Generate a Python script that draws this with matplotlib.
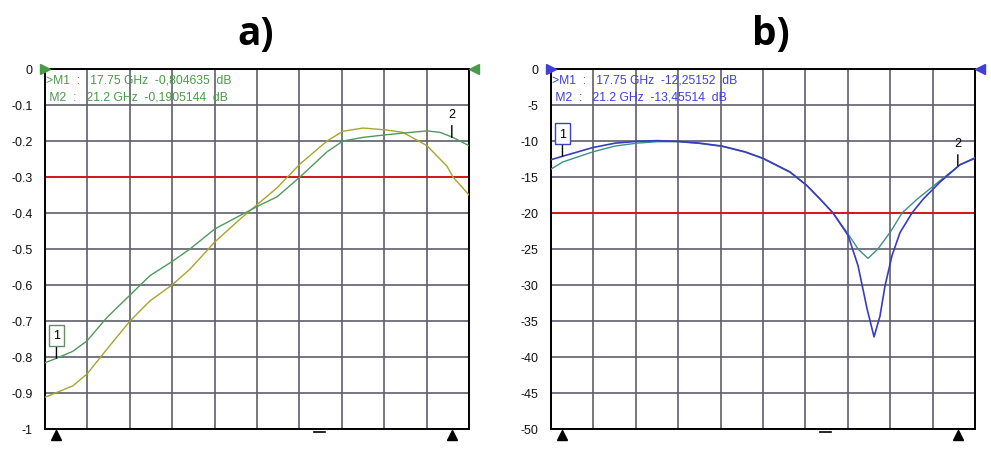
import matplotlib
matplotlib.use("Agg")
import matplotlib.pyplot as plt
from matplotlib.transforms import blended_transform_factory

# ---------------- data ----------------
f_start, f_stop = 17.65, 21.35
marker_freqs = [17.75, 21.2]

# panel a (dB)
a_green_f = [17.65, 17.755, 17.894, 18.017, 18.191, 18.392, 18.566, 18.758, 18.915, 19.133,
             19.352, 19.526, 19.675, 19.875, 20.111, 20.250, 20.425, 20.617, 20.774, 20.983,
             21.097, 21.210, 21.35]
a_green_v = [-0.816, -0.803, -0.784, -0.755, -0.69, -0.628, -0.574, -0.535, -0.50, -0.444,
             -0.407, -0.378, -0.355, -0.30, -0.23, -0.20, -0.19, -0.183, -0.178, -0.172,
             -0.176, -0.19, -0.213]
a_yellow_f = [17.65, 17.894, 18.017, 18.191, 18.392, 18.566, 18.758, 18.915, 19.133, 19.352,
              19.526, 19.675, 19.875, 20.111, 20.250, 20.425, 20.617, 20.774, 20.983, 21.158,
              21.210, 21.35]
a_yellow_v = [-0.912, -0.88, -0.847, -0.778, -0.70, -0.644, -0.60, -0.556, -0.48, -0.417,
              -0.37, -0.33, -0.264, -0.20, -0.173, -0.164, -0.169, -0.176, -0.213, -0.27,
              -0.30, -0.35]
a_limit = -0.3
a_yticks = [0, -0.1, -0.2, -0.3, -0.4, -0.5, -0.6, -0.7, -0.8, -0.9, -1]
a_yticklabels = ["0", "-0.1", "-0.2", "-0.3", "-0.4", "-0.5", "-0.6", "-0.7", "-0.8", "-0.9", "-1"]
a_marker_text = [">M1  :   17.75 GHz  -0,804635  dB", " M2  :   21.2 GHz  -0,1905144  dB"]

# panel b (dB)
b_blue_f = [17.65, 17.755, 18.017, 18.209, 18.400, 18.575, 18.758, 18.950, 19.142, 19.343,
            19.500, 19.736, 19.884, 20.0, 20.111, 20.242, 20.329, 20.408, 20.469, 20.521,
            20.565, 20.626, 20.696, 20.800, 20.896, 21.045, 21.219, 21.35]
b_blue_v = [-12.6, -12.1, -10.9, -10.3, -10.05, -9.95, -10.05, -10.3, -10.7, -11.5,
            -12.4, -14.3, -16.2, -18.1, -20.0, -23.1, -27.3, -33.3, -37.2, -34.3,
            -30.1, -25.9, -22.7, -20.0, -18.1, -15.7, -13.3, -12.4]
b_green_f = [17.65, 17.755, 18.017, 18.209, 18.400, 18.575, 18.758, 18.950, 19.142, 19.343,
             19.500, 19.736, 19.884, 20.0, 20.111, 20.242, 20.329, 20.416, 20.503, 20.617,
             20.713, 20.844, 21.045, 21.219, 21.35]
b_green_v = [-13.9, -12.9, -11.5, -10.7, -10.3, -10.1, -10.1, -10.35, -10.75, -11.55,
             -12.45, -14.35, -16.2, -18.1, -20.0, -22.9, -25.0, -26.3, -25.0, -22.5,
             -20.0, -18.1, -15.5, -13.3, -12.3]
b_limit = -20
b_yticks = [0, -5, -10, -15, -20, -25, -30, -35, -40, -45, -50]
b_yticklabels = ["0", "-5", "-10", "-15", "-20", "-25", "-30", "-35", "-40", "-45", "-50"]
b_marker_text = [">M1  :   17.75 GHz  -12,25152  dB", " M2  :   21.2 GHz  -13,45514  dB"]

titles = ["a)", "b)"]

# ---------------- figure ----------------
W, H = 991, 456
fig = plt.figure(figsize=(W / 100, H / 100), dpi=100)
plt.rcParams['font.family'] = ['Liberation Sans', 'DejaVu Sans']

grid_col = "#5f5f6e"
red = "#e01010"


def px_axes(x0, x1, y0, y1):
    return fig.add_axes([x0 / W, 1 - y1 / H, (x1 - x0) / W, (y1 - y0) / H])


def setup(ax, yticks, ylabels, ylim):
    ax.set_xlim(f_start, f_stop)
    ax.set_ylim(*ylim)
    xt = [f_start + i * (f_stop - f_start) / 10 for i in range(11)]
    ax.set_xticks(xt)
    ax.set_xticklabels([])
    ax.set_yticks(yticks)
    ax.set_yticklabels(ylabels, fontsize=9, color="#111111")
    ax.tick_params(length=0, pad=9)
    ax.grid(True, color=grid_col, linewidth=1.2)
    ax.set_axisbelow(True)
    for s in ax.spines.values():
        s.set_color("black")
        s.set_linewidth(1.4)


def decorations(ax, col, texts, limit):
    ax.axhline(limit, color=red, linewidth=1.3, zorder=2)
    ax.text(0.003, 0.988, texts[0], transform=ax.transAxes, color=col, fontsize=8.7,
            va="top", ha="left")
    ax.text(0.003, 0.94, texts[1], transform=ax.transAxes, color=col, fontsize=8.7,
            va="top", ha="left")
    # start/stop triangles at top
    ax.plot([0.0], [1.0], marker=">", color=col, markersize=7, transform=ax.transAxes,
            clip_on=False, zorder=6)
    ax.plot([1.012], [1.0], marker="<", color=col, markersize=7, transform=ax.transAxes,
            clip_on=False, zorder=6)
    # marker triangles just below the axis
    tr = blended_transform_factory(ax.transData, ax.transAxes)
    for mf in marker_freqs:
        ax.plot([mf], [-0.017], marker="^", color="black", markersize=6.5,
                transform=tr, clip_on=False, zorder=5)
    # small dash under axis
    ax.plot([0.635, 0.66], [-0.009, -0.009], color="black", linewidth=1.2,
            transform=ax.transAxes, clip_on=False)


def label(ax, text, xy, xytext, boxcol=None):
    kw = {}
    if boxcol:
        kw["bbox"] = dict(boxstyle="square,pad=0.35", fc="white", ec=boxcol, lw=1)
    ax.annotate(text, xy=xy, xytext=xytext, fontsize=9, ha="center", va="center",
                color="black",
                arrowprops=dict(arrowstyle="-", color="black", lw=1,
                                shrinkA=0 if boxcol else 2, shrinkB=0), **kw)


# ---- panel a ----
axa = px_axes(45, 469, 70, 430)
setup(axa, a_yticks, a_yticklabels, (-1, 0))
axa.plot(a_yellow_f, a_yellow_v, color="#a6a62a", linewidth=1.0, zorder=3)
axa.plot(a_green_f, a_green_v, color="#4f9a5c", linewidth=1.0, zorder=3)
decorations(axa, "#4a9a4a", a_marker_text, a_limit)
label(axa, "1", (marker_freqs[0], -0.803), (marker_freqs[0], -0.74), "#6a8a6a")
label(axa, "2", (marker_freqs[1], -0.19), (marker_freqs[1], -0.125))

# ---- panel b ----
axb = px_axes(551, 975, 70, 430)
setup(axb, b_yticks, b_yticklabels, (-50, 0))
axb.plot(b_green_f, b_green_v, color="#3f8f8a", linewidth=1.0, zorder=3)
axb.plot(b_blue_f, b_blue_v, color="#3b3bc0", linewidth=1.2, zorder=3)
decorations(axb, "#4040d8", b_marker_text, b_limit)
label(axb, "1", (marker_freqs[0], -12.1), (marker_freqs[0], -9.0), "#4040c0")
label(axb, "2", (marker_freqs[1], -13.4), (marker_freqs[1], -10.3))

# titles
fig.text(256 / W, 1 - 35 / H, titles[0], fontsize=28, fontweight="bold",
         family=["Open Sans", "DejaVu Sans"], ha="center", va="center")
fig.text(771 / W, 1 - 35 / H, titles[1], fontsize=28, fontweight="bold",
         family=["Open Sans", "DejaVu Sans"], ha="center", va="center")

fig.savefig("out.png", dpi=100, facecolor="white")
